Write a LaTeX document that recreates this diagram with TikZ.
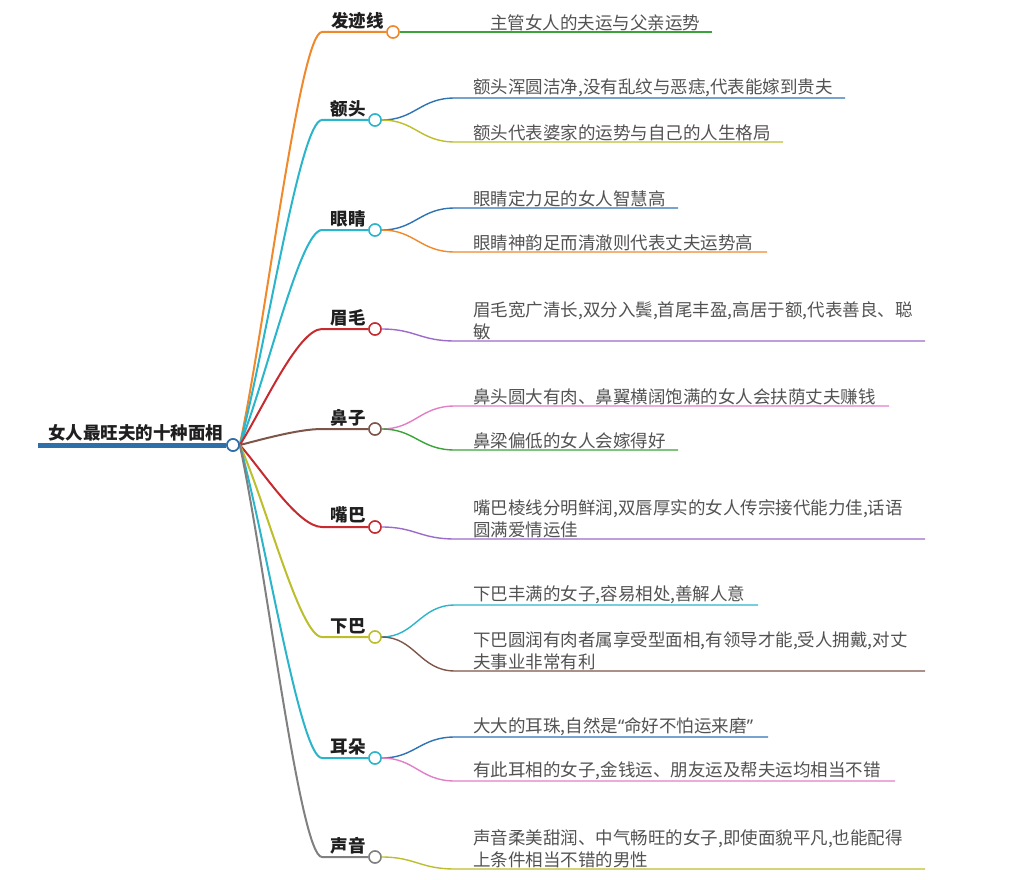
\documentclass[tikz,border=0pt]{standalone}
\usepackage{fontspec}
\setmainfont{Noto Sans CJK SC}
\newfontfamily\latq{Noto Sans}
\definecolor{rootblue}{HTML}{2F6FA9}
\definecolor{borange}{HTML}{F0892B}
\definecolor{bcyan}{HTML}{2BB5CA}
\definecolor{bred}{HTML}{C62B2F}
\definecolor{bbrown}{HTML}{7E5549}
\definecolor{bolive}{HTML}{BCBE2C}
\definecolor{bgray}{HTML}{808080}
\definecolor{bblue}{HTML}{2E73B4}
\definecolor{bgreen}{HTML}{3AA33A}
\definecolor{bpink}{HTML}{E27EC6}
\definecolor{bpurple}{HTML}{9B6BCB}
\begin{document}
\begin{tikzpicture}[x=1pt,y=-1pt,
 cat/.style={font=\fontsize{17.5}{21}\selectfont\bfseries, text=black!88, inner sep=0, anchor=south east},
 leaf/.style={font=\fontsize{17.5}{22}\selectfont, text=black!68, inner sep=0, anchor=south west, align=left},
 dot/.style={circle, draw, fill=white, line width=1.4pt, minimum size=12pt, inner sep=0},
 br/.style={line width=2pt},
 lf/.style={line width=1.4pt}]
\useasboundingbox (0,0) rectangle (1012,880);

% root
\coordinate (rl) at (38,445);
\node[dot, draw=rootblue, line width=1.6pt] (rc) at (233,445) {};
\draw[rootblue, line width=5pt] (rl) -- (rc.west);
\node[cat, anchor=south west] (root) at (48,441) {女人最旺夫的十种面相};

% category circles (positions)
\node[dot, draw=borange] (c1) at (393,32) {};
\node[dot, draw=bcyan] (c2) at (375,120) {};
\node[dot, draw=bcyan] (c3) at (375,230) {};
\node[dot, draw=bred] (c4) at (375,329) {};
\node[dot, draw=bbrown] (c5) at (375,429) {};
\node[dot, draw=bred] (c6) at (375,527) {};
\node[dot, draw=bolive] (c7) at (375,637) {};
\node[dot, draw=bcyan] (c8) at (375,758) {};
\node[dot, draw=bgray] (c9) at (375,857) {};

% branches
\draw[br, borange] (rc.east) .. controls (266,321) and (300,32) .. (322,32) -- (c1.west);
\draw[br, bcyan] (rc.east) .. controls (266,347) and (300,120) .. (322,120) -- (c2.west);
\draw[br, bcyan] (rc.east) .. controls (266,380) and (300,230) .. (322,230) -- (c3.west);
\draw[br, bred] (rc.east) .. controls (262,410) and (298,329) .. (322,329) -- (c4.west);
\draw[br, bbrown] (rc.east) .. controls (260,440) and (298,429) .. (322,429) -- (c5.west);
\draw[br, bred] (rc.east) .. controls (262,470) and (298,527) .. (322,527) -- (c6.west);
\draw[br, bolive] (rc.east) .. controls (266,503) and (300,637) .. (322,637) -- (c7.west);
\draw[br, bcyan] (rc.east) .. controls (266,539) and (300,758) .. (322,758) -- (c8.west);
\draw[br, bgray] (rc.east) .. controls (266,568) and (300,857) .. (322,857) -- (c9.west);

% redraw circles on top
\foreach \n/\c in {c1/borange,c2/bcyan,c3/bcyan,c4/bred,c5/bbrown,c6/bred,c7/bolive,c8/bcyan,c9/bgray}{
  \draw[\c, line width=1.4pt, fill=white] (\n) circle (6pt);
}
\draw[rootblue, line width=1.6pt, fill=white] (rc) circle (6pt);

% category labels
\node[cat] (t1) at (384,29) {发迹线};
\node[cat] (t2) at (366,117) {额头};
\node[cat] (t3) at (366,227) {眼睛};
\node[cat] (t4) at (366,326) {眉毛};
\node[cat] (t5) at (366,426) {鼻子};
\node[cat] (t6) at (366,524) {嘴巴};
\node[cat] (t7) at (366,634) {下巴};
\node[cat] (t8) at (366,755) {耳朵};
\node[cat] (t9) at (366,854) {声音};

% leaf connectors
\coordinate (e1) at (712,32);
\draw[lf, bgreen] (c1.east) -- (e1);

\coordinate (e2a) at (845,98);
\coordinate (e2b) at (783,142);
\draw[lf, bblue] (c2.east) .. controls (415,120) and (420,98) .. (455,98) -- (e2a);
\draw[lf, bolive] (c2.east) .. controls (415,120) and (420,142) .. (455,142) -- (e2b);

\coordinate (e3a) at (678,208);
\coordinate (e3b) at (767,252);
\draw[lf, bblue] (c3.east) .. controls (415,230) and (420,208) .. (455,208) -- (e3a);
\draw[lf, borange] (c3.east) .. controls (415,230) and (420,252) .. (455,252) -- (e3b);

\coordinate (e4) at (925,341);
\draw[lf, bpurple] (c4.east) .. controls (415,329) and (420,341) .. (455,341) -- (e4);

\coordinate (e5a) at (889,406);
\coordinate (e5b) at (678,450);
\draw[lf, bpink] (c5.east) .. controls (415,429) and (420,406) .. (455,406) -- (e5a);
\draw[lf, bgreen] (c5.east) .. controls (415,429) and (420,450) .. (455,450) -- (e5b);

\coordinate (e6) at (925,539);
\draw[lf, bpurple] (c6.east) .. controls (415,527) and (420,539) .. (455,539) -- (e6);

\coordinate (e7a) at (758,605);
\coordinate (e7b) at (925,671);
\draw[lf, bcyan] (c7.east) .. controls (415,637) and (420,605) .. (455,605) -- (e7a);
\draw[lf, bbrown] (c7.east) .. controls (415,637) and (420,671) .. (455,671) -- (e7b);

\coordinate (e8a) at (768,737);
\coordinate (e8b) at (895,781);
\draw[lf, bblue] (c8.east) .. controls (415,758) and (420,737) .. (455,737) -- (e8a);
\draw[lf, bpink] (c8.east) .. controls (415,758) and (420,781) .. (455,781) -- (e8b);

\coordinate (e9) at (925,869);
\draw[lf, bolive] (c9.east) .. controls (415,857) and (420,869) .. (455,869) -- (e9);

% leaf texts
\node[leaf] (l1) at (490,31) {主管女人的夫运与父亲运势};
\node[leaf] (l2a) at (473,97) {额头浑圆洁净,没有乱纹与恶痣,代表能嫁到贵夫};
\node[leaf] (l2b) at (473,141) {额头代表婆家的运势与自己的人生格局};
\node[leaf] (l3a) at (473,207) {眼睛定力足的女人智慧高};
\node[leaf] (l3b) at (473,251) {眼睛神韵足而清澈则代表丈夫运势高};
\node[leaf] (l4) at (473,340) {眉毛宽广清长,双分入鬓,首尾丰盈,高居于额,代表善良、聪\\敏};
\node[leaf] (l5a) at (473,405) {鼻头圆大有肉、鼻翼横阔饱满的女人会扶荫丈夫赚钱};
\node[leaf] (l5b) at (473,449) {鼻梁偏低的女人会嫁得好};
\node[leaf] (l6) at (473,538) {嘴巴棱线分明鲜润,双唇厚实的女人传宗接代能力佳,话语\\圆满爱情运佳};
\node[leaf] (l7a) at (473,604) {下巴丰满的女子,容易相处,善解人意};
\node[leaf] (l7b) at (473,670) {下巴圆润有肉者属享受型面相,有领导才能,受人拥戴,对丈\\夫事业非常有利};
\node[leaf] (l8a) at (473,736) {大大的耳珠,自然是{\latq “}命好不怕运来磨{\latq ”}};
\node[leaf] (l8b) at (473,780) {有此耳相的女子,金钱运、朋友运及帮夫运均相当不错};
\node[leaf] (l9) at (473,868) {声音柔美甜润、中气畅旺的女子,即使面貌平凡,也能配得\\上条件相当不错的男性};
\end{tikzpicture}
\end{document}
